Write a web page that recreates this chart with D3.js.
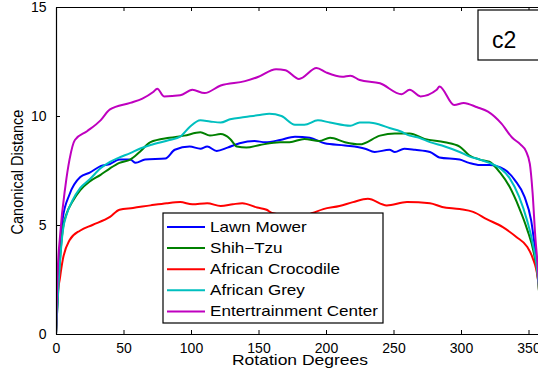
<!DOCTYPE html>
<html>
<head>
<meta charset="utf-8">
<script src="https://cdn.jsdelivr.net/npm/d3@7"></script>
<style>
  html, body { margin: 0; padding: 0; background: #fff; overflow: hidden; }
  text { font-family: "Liberation Sans", Arial, sans-serif; }
</style>
</head>
<body>
<svg id="chart" width="538" height="371"></svg>
<script>
// curves: [rotation degree, canonical distance]
const lawnMower = [[0,0],[2,3.0],[5,5.3],[10,6.4],[18,7.2],[25,7.4],[33,7.7],[40,7.8],[47,8.0],[55,8.0],[59,7.85],[66,8.0],[81,8.05],[88,8.45],[99,8.6],[107,8.5],[112,8.6],[119,8.4],[127,8.55],[136,8.75],[147,8.85],[155,8.8],[166,8.9],[177,9.05],[188,9.0],[199,8.75],[214,8.65],[229,8.5],[236,8.35],[247,8.45],[251,8.35],[258,8.5],[266,8.45],[277,8.35],[284,8.1],[299,8.0],[306,7.85],[314,7.75],[321,7.75],[332,7.55],[340,7.05],[347,6.3],[352,5.2],[355,3.85],[358,2.4],[360,0]];
const shihTzu = [[0,0],[2,2.5],[5,4.8],[8,5.55],[12,6.05],[18,6.6],[25,7.0],[33,7.3],[40,7.6],[47,7.85],[55,8.0],[62,8.35],[70,8.8],[84,9.0],[95,9.1],[107,9.25],[114,9.1],[122,9.17],[129,8.95],[134,8.6],[141,8.55],[151,8.67],[166,8.8],[173,8.8],[184,8.95],[195,8.85],[203,9.0],[214,8.8],[225,8.7],[240,9.1],[251,9.2],[262,9.2],[273,8.95],[288,8.8],[299,8.6],[306,8.2],[314,8.0],[321,7.9],[329,7.4],[336,6.75],[343,5.8],[349,4.8],[354,3.7],[357,2.5],[360,0]];
const africanCrocodile = [[0,0],[1,1.6],[3,2.6],[5,3.4],[10,4.3],[18,4.75],[27,5.0],[40,5.37],[47,5.7],[57,5.78],[70,5.9],[82,6.0],[92,6.05],[101,5.95],[112,6.0],[122,5.87],[131,5.95],[138,6.0],[149,5.8],[156,5.7],[160,5.55],[170,5.45],[185,5.45],[190,5.55],[198,5.73],[210,5.87],[220,6.05],[231,6.2],[245,5.9],[260,6.05],[277,6.0],[286,5.83],[299,5.73],[309,5.6],[319,5.27],[331,4.9],[341,4.45],[349,4.0],[353,3.5],[357,2.5],[360,0]];
const africanGrey = [[0,0],[2,2.4],[5,4.7],[8,5.5],[12,6.1],[18,6.7],[25,7.1],[33,7.6],[40,7.9],[47,8.1],[55,8.3],[62,8.5],[70,8.67],[84,8.9],[92,9.05],[99,9.5],[107,9.8],[114,9.75],[122,9.7],[129,9.85],[140,9.95],[151,10.05],[158,10.1],[167,10.0],[177,9.6],[184,9.6],[194,9.8],[203,9.7],[218,9.55],[225,9.7],[232,9.7],[240,9.6],[247,9.45],[255,9.3],[262,9.1],[269,9.0],[277,8.8],[288,8.6],[299,8.35],[306,8.15],[314,8.0],[321,7.85],[329,7.6],[336,7.15],[343,6.3],[349,5.2],[353,4.2],[357,2.6],[360,0]];
const entertainmentCenter = [[0,0],[1,2.5],[3,4.5],[7,6.8],[10,8.0],[14,8.9],[23,9.3],[33,9.8],[40,10.3],[55,10.6],[64,10.8],[72,11.1],[75,11.25],[80,10.9],[92,10.95],[101,11.2],[110,11.05],[122,11.4],[140,11.6],[150,11.8],[163,12.15],[170,12.1],[180,11.7],[193,12.2],[200,12.0],[212,11.8],[218,11.85],[225,11.65],[240,11.5],[256,11.0],[262,11.2],[270,10.9],[282,11.2],[284,11.35],[295,10.5],[302,10.6],[312,10.4],[320,10.2],[330,9.65],[338,9.0],[344,8.7],[348,8.4],[351,7.8],[353,6.5],[355,4.5],[357,3.0],[360,0]];

const seriesNames = ["Lawn Mower", "Shih\u2212Tzu", "African Crocodile", "African Grey", "Entertrainment Center"];
const seriesData = [lawnMower, shihTzu, africanCrocodile, africanGrey, entertainmentCenter];
const seriesColors = ["#0000ff", "#008000", "#ff0000", "#00bfbf", "#bf00bf"];
const xTicks = [0, 50, 100, 150, 200, 250, 300, 350];
const yTicks = [0, 5, 10, 15];

const plotLeft = 56, plotTop = 7, plotRight = 542, plotBottom = 334;

const svg = d3.select("#chart");

const x = d3.scaleLinear().domain([0, 360]).range([plotLeft, plotRight]);
const y = d3.scaleLinear().domain([0, 15]).range([plotBottom, plotTop]);

svg.append("defs").append("clipPath").attr("id", "plotclip")
  .append("rect")
  .attr("x", plotLeft).attr("y", plotTop)
  .attr("width", plotRight - plotLeft).attr("height", plotBottom - plotTop);

// lines
const line = d3.line()
  .x(d => x(d[0]))
  .y(d => y(d[1]))
  .curve(d3.curveMonotoneX);

svg.append("g").attr("clip-path", "url(#plotclip)")
  .selectAll("path")
  .data(seriesData)
  .enter()
  .append("path")
  .attr("d", line)
  .attr("fill", "none")
  .attr("stroke", (d, i) => seriesColors[i])
  .attr("stroke-width", 2)
  .attr("stroke-linejoin", "round");

// axes (matlab style, ticks pointing inward)
const xAxis = d3.axisBottom(x).tickValues(xTicks).tickSizeInner(-4).tickSizeOuter(0).tickPadding(8);
const yAxis = d3.axisLeft(y).tickValues(yTicks).tickSizeInner(-4).tickSizeOuter(0).tickPadding(8);
const xTop = d3.axisTop(x).tickValues(xTicks).tickSizeInner(-4).tickSizeOuter(0).tickFormat("");
const yRight = d3.axisRight(y).tickValues(yTicks).tickSizeInner(-4).tickSizeOuter(0).tickFormat("");

const gx = svg.append("g").attr("transform", `translate(0,${plotBottom})`).call(xAxis);
const gy = svg.append("g").attr("transform", `translate(${plotLeft},0)`).call(yAxis);
svg.append("g").attr("transform", `translate(0,${plotTop})`).call(xTop);
svg.append("g").attr("transform", `translate(${plotRight},0)`).call(yRight);

svg.selectAll(".domain").attr("stroke", "#000").attr("stroke-width", 1.2);
svg.selectAll(".tick line").attr("stroke", "#000").attr("stroke-width", 1);
svg.selectAll(".tick text")
  .attr("font-family", "'Liberation Sans', Arial, sans-serif")
  .attr("font-size", "14px")
  .attr("fill", "#000");
gx.selectAll(".tick text").attr("dy", "0.75em");
gy.selectAll(".tick text").attr("dx", "-0.1em");

// axis labels (the figure is a bit stretched horizontally)
svg.append("text")
  .attr("transform", `translate(300,365) scale(1.25,1)`)
  .attr("text-anchor", "middle")
  .attr("font-size", "14px")
  .text("Rotation Degrees");

svg.append("text")
  .attr("transform", `translate(23,172) scale(1.2,1) rotate(-90)`)
  .attr("text-anchor", "middle")
  .attr("font-size", "14.5px")
  .text("Canonical Distance");

// legend
const legend = svg.append("g");
legend.append("rect")
  .attr("x", 163).attr("y", 213)
  .attr("width", 220).attr("height", 110)
  .attr("fill", "#fff").attr("stroke", "#000").attr("stroke-width", 1.2);

const items = legend.selectAll("g.item")
  .data(seriesNames)
  .enter()
  .append("g")
  .attr("class", "item")
  .attr("transform", (d, i) => `translate(0,${227 + i * 21.1})`);

items.append("line")
  .attr("x1", 167).attr("x2", 205)
  .attr("y1", 0).attr("y2", 0)
  .attr("stroke", (d, i) => seriesColors[i])
  .attr("stroke-width", 2);

items.append("text")
  .attr("transform", "translate(210,5) scale(1.22,1)")
  .attr("font-size", "14px")
  .text(d => d);

// panel tag
svg.append("rect")
  .attr("x", 478).attr("y", 10)
  .attr("width", 80).attr("height", 50)
  .attr("fill", "#fff").attr("stroke", "#000").attr("stroke-width", 1.2);

svg.append("text")
  .attr("x", 492).attr("y", 48)
  .attr("font-family", "Lato, 'Open Sans', sans-serif")
  .attr("font-size", "23px")
  .text("c2");
</script>
</body>
</html>
